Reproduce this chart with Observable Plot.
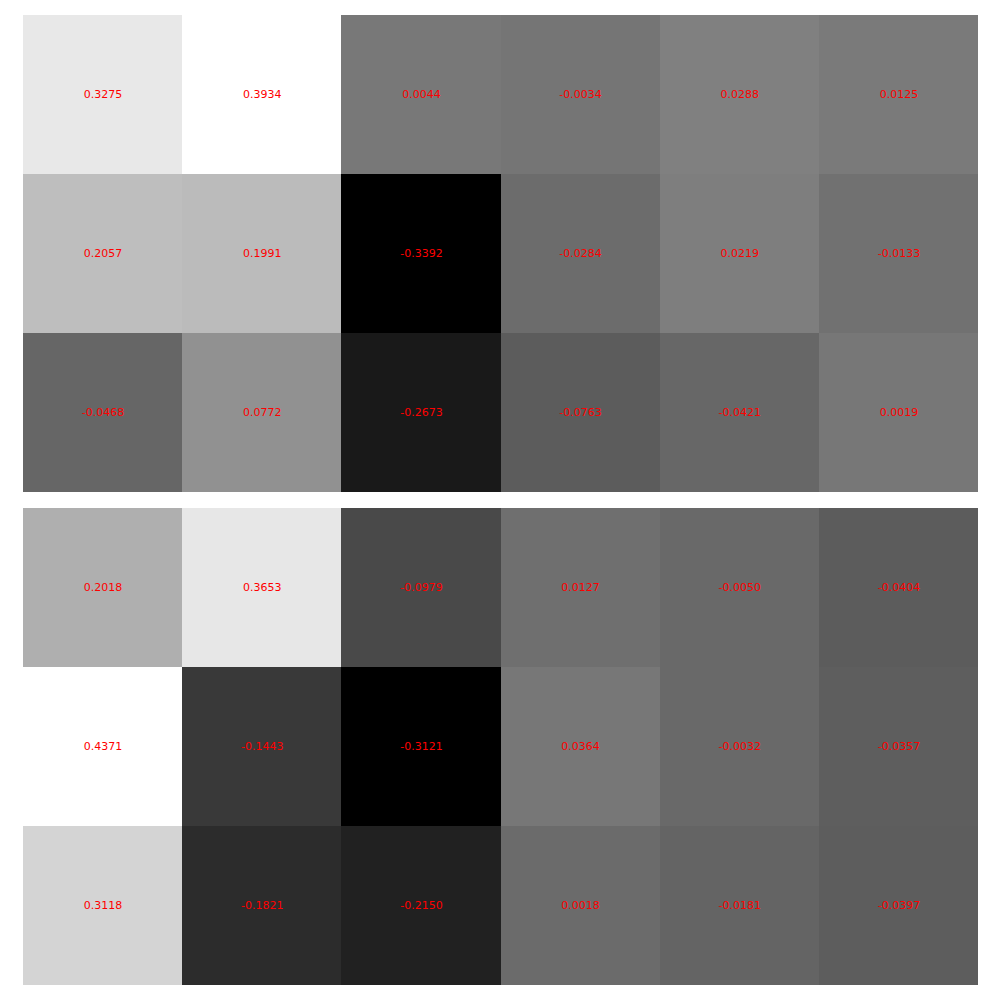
<!DOCTYPE html>
<html>
<head>
<meta charset="utf-8">
<script src="https://cdn.jsdelivr.net/npm/d3@7"></script>
<script src="https://cdn.jsdelivr.net/npm/@observablehq/plot@0.6"></script>
<style>
  html, body { margin: 0; padding: 0; background: #fff; }
  #chart svg { display: block; }
</style>
</head>
<body>
<div id="chart"></div>
<script>
const columns = ["c1", "c2", "c3", "c4", "c5", "c6"];
const rows = ["r1", "r2", "r3"];

const topValues = [
  [0.3275, 0.3934, 0.0044, -0.0034, 0.0288, 0.0125],
  [0.2057, 0.1991, -0.3392, -0.0284, 0.0219, -0.0133],
  [-0.0468, 0.0772, -0.2673, -0.0763, -0.0421, 0.0019]
];

const bottomValues = [
  [0.2018, 0.3653, -0.0979, 0.0127, -0.0050, -0.0404],
  [0.4371, -0.1443, -0.3121, 0.0364, -0.0032, -0.0357],
  [0.3118, -0.1821, -0.2150, 0.0018, -0.0181, -0.0397]
];

function toTable(values) {
  const out = [];
  values.forEach((row, i) => row.forEach((v, j) => out.push({row: rows[i], col: columns[j], value: v})));
  return out;
}

function heatmap(values, marginTop, marginBottom) {
  const data = toTable(values);
  const ext = d3.extent(data, d => d.value);
  return Plot.plot({
    width: 1000,
    height: 500,
    marginLeft: 23,
    marginRight: 22,
    marginTop,
    marginBottom,
    x: {domain: columns, padding: 0, round: false, axis: null},
    y: {domain: rows, padding: 0, round: false, axis: null},
    color: {type: "linear", domain: ext, range: ["#000000", "#ffffff"]},
    style: {fontFamily: "DejaVu Sans", background: "white"},
    marks: [
      Plot.cell(data, {x: "col", y: "row", fill: "value", inset: 0, shapeRendering: "crispEdges"}),
      Plot.text(data, {
        x: "col", y: "row",
        text: d => d.value.toFixed(4),
        fill: "red",
        fontSize: 11,
        dy: -1,
        fontFamily: "DejaVu Sans"
      })
    ]
  });
}

const chart = document.getElementById("chart");
chart.appendChild(heatmap(topValues, 15, 8));
chart.appendChild(heatmap(bottomValues, 8, 15));
</script>
</body>
</html>
